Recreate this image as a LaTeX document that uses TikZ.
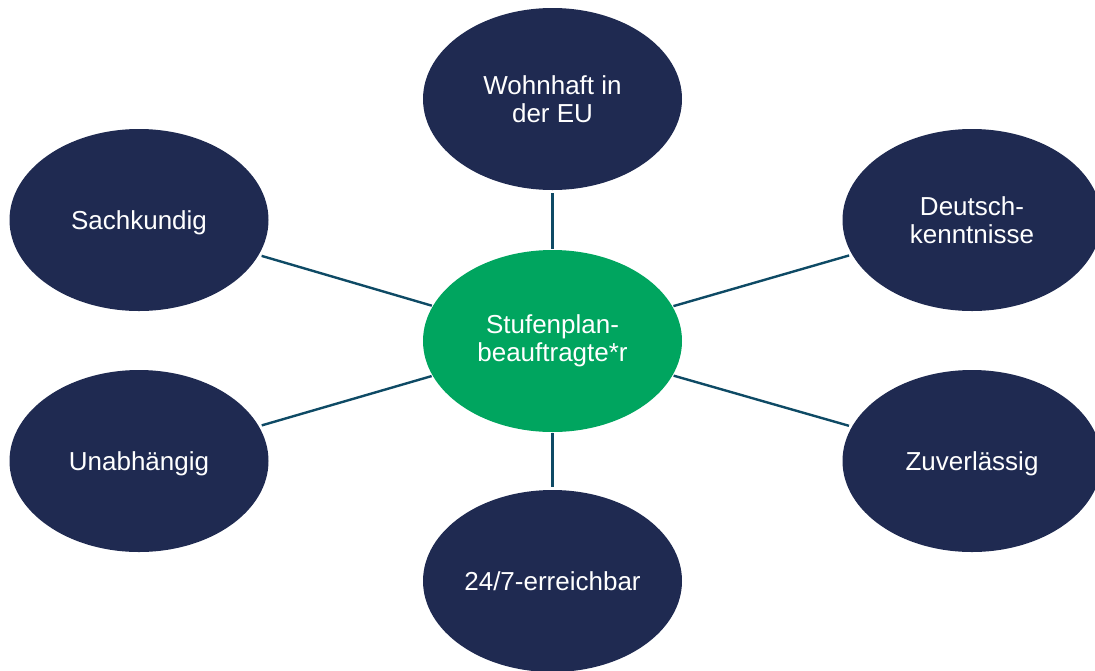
\documentclass[tikz,border=0pt]{standalone}
\usepackage{fontspec}
\setmainfont{Liberation Sans}
\usetikzlibrary{shapes.geometric}
\definecolor{navy}{HTML}{1F2A51}
\definecolor{mygreen}{HTML}{00A55F}
\definecolor{linkc}{HTML}{0E4A65}
\tikzset{
  blob/.style={ellipse, fill=navy, draw=none, minimum width=259pt, minimum height=182pt,
    inner sep=0pt, text=white, align=center, font=\fontsize{26}{28}\selectfont},
  hub/.style={blob, fill=mygreen},
  oneline/.style={label={[text=white, font=\fontsize{26}{28}\selectfont]center:#1}},
  link/.style={draw=linkc, line width=2.4pt, shorten <=3pt, shorten >=1pt}
}
\begin{document}
\begin{tikzpicture}[x=1pt,y=-1pt]
\useasboundingbox (0,0) rectangle (1095,670);
\node[hub] (c) at (552.5,341) {Stufenplan-\\beauftragte*r};
\node[blob] (t) at (552.5,99) {Wohnhaft in\\der EU};
\node[blob] (b) at (552.5,581) {};
\node[blob] (lt) at (139,220) {};
\node[blob] (lb) at (139,461) {};
\node[blob] (rt) at (972,220) {Deutsch-\\kenntnisse};
\node[blob] (rb) at (972,461) {};
\node[text=white, font=\fontsize{26}{28}\selectfont, anchor=base] (bt) at ([yshift=-9pt]b.center) {24/7-erreichbar};
\node[text=white, font=\fontsize{26}{28}\selectfont, anchor=base] (ltt) at ([yshift=-9pt]lt.center) {Sachkundig};
\node[text=white, font=\fontsize{26}{28}\selectfont, anchor=base] (lbt) at ([yshift=-9pt]lb.center) {Unabhängig};
\node[text=white, font=\fontsize{26}{28}\selectfont, anchor=base] (rbt) at ([yshift=-9pt]rb.center) {Zuverlässig};
\draw[link] (t) -- (c);
\draw[link] (b) -- (c);
\draw[link] (lt) -- (c);
\draw[link] (lb) -- (c);
\draw[link] (rt) -- (c);
\draw[link] (rb) -- (c);
\end{tikzpicture}
\end{document}
